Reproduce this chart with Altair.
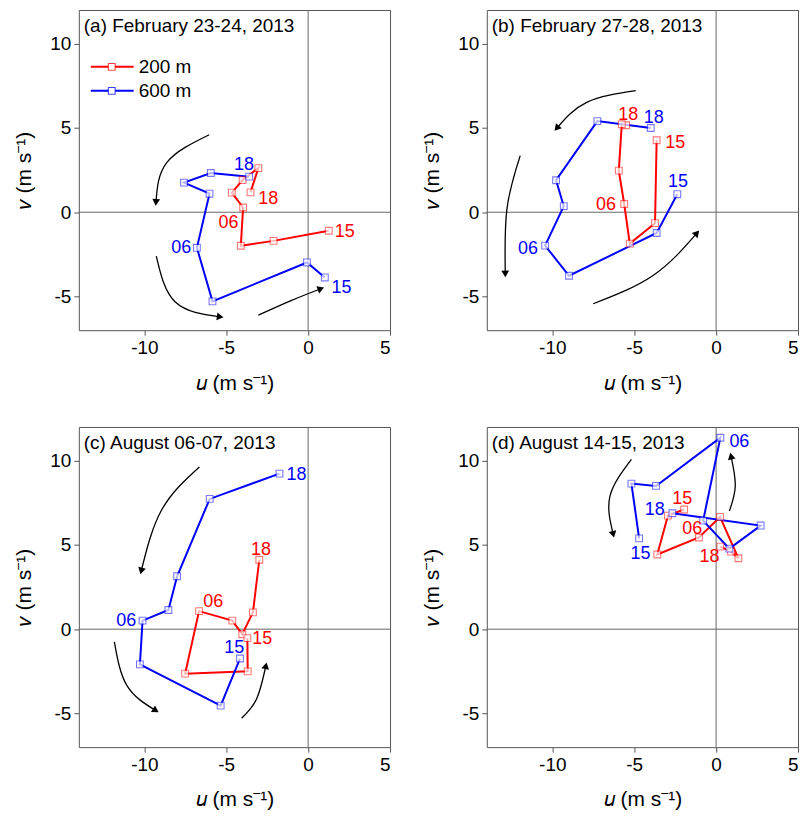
import math
import altair as alt
import pandas as pd

# ---------------- data (u, v in m/s), hourly order 18 -> 15 ----------------
a_u_200 = [-3.52, -3.04, -4.00, -4.66, -3.97, -4.11, -2.11, 1.26]
a_v_200 = [1.18, 2.62, 1.91, 1.16, 0.28, -1.99, -1.70, -1.10]
a_u_600 = [-3.60, -5.94, -7.58, -6.02, -6.79, -5.84, -0.07, 1.02]
a_v_600 = [2.11, 2.33, 1.76, 1.10, -2.11, -5.29, -2.98, -3.87]

b_u_200 = [-5.49, -5.76, -5.94, -5.61, -5.27, -3.73, -3.63]
b_v_200 = [5.16, 5.22, 2.47, 0.49, -1.86, -0.65, 4.27]
b_u_600 = [-3.99, -7.25, -9.77, -9.30, -10.44, -8.98, -3.63, -2.37]
b_v_600 = [5.00, 5.41, 1.90, 0.36, -1.98, -3.77, -1.23, 1.07]

c_u_200 = [-2.98, -3.37, -4.02, -4.63, -6.66, -7.51, -3.69, -3.71]
c_v_200 = [4.12, 1.00, -0.30, 0.51, 1.07, -2.64, -2.50, -0.53]
c_u_600 = [-1.75, -6.01, -8.00, -8.53, -10.11, -10.27, -5.34, -4.16]
c_v_600 = [9.23, 7.73, 3.14, 1.14, 0.51, -2.09, -4.54, -1.74]

d_u_200 = [0.26, 0.91, 1.36, 0.24, -1.05, -3.59, -2.94, -1.95]
d_v_200 = [4.90, 4.60, 4.21, 6.66, 5.44, 4.43, 6.74, 7.10]
d_u_600 = [-2.67, 2.72, 0.81, -0.79, 0.26, -3.67, -5.17, -4.70]
d_v_600 = [6.88, 6.15, 4.78, 6.44, 11.36, 8.50, 8.64, 5.39]

# hour labels: text, series, u, v
a_lab_text = ["18", "18", "06", "15", "06", "15"]
a_lab_ser = ["600 m", "200 m", "200 m", "200 m", "600 m", "600 m"]
a_lab_u = [-3.91, -2.43, -4.86, 2.24, -7.75, 2.04]
a_lab_v = [2.82, 0.79, -0.65, -1.18, -2.13, -4.50]

b_lab_text = ["18", "18", "15", "15", "06", "06"]
b_lab_ser = ["200 m", "600 m", "200 m", "600 m", "200 m", "600 m"]
b_lab_u = [-5.37, -3.81, -2.49, -2.33, -6.73, -11.49]
b_lab_v = [5.79, 5.59, 4.09, 1.78, 0.43, -2.17]

c_lab_text = ["18", "18", "06", "06", "15", "15"]
c_lab_ser = ["600 m", "200 m", "200 m", "600 m", "200 m", "600 m"]
c_lab_u = [-0.71, -2.88, -5.79, -11.10, -2.80, -4.51]
c_lab_v = [9.15, 4.69, 1.64, 0.51, -0.59, -1.14]

d_lab_text = ["06", "15", "18", "06", "15", "18"]
d_lab_ser = ["600 m", "200 m", "600 m", "200 m", "600 m", "200 m"]
d_lab_u = [1.42, -2.07, -3.75, -1.46, -4.62, -0.41]
d_lab_v = [11.12, 7.75, 7.05, 5.93, 4.45, 4.29]

# rotation arrows: (start, middle, end) points
a_arrows = [[(-6.04, 4.60), (-8.62, 2.96), (-9.29, 0.59)],
            [(-9.27, -2.60), (-8.11, -5.33), (-5.37, -6.21)],
            [(-3.04, -6.11), (-1.01, -5.23), (0.78, -4.54)]]
b_arrows = [[(-4.91, 7.21), (-7.90, 6.52), (-9.73, 4.98)],
            [(-11.96, 3.36), (-12.77, 0.20), (-12.87, -3.66)],
            [(-7.50, -5.43), (-3.85, -3.75), (-1.17, -1.24)]]
c_arrows = [[(-6.64, 9.63), (-8.93, 7.10), (-10.19, 3.45)],
            [(-11.83, -0.75), (-11.06, -3.35), (-9.30, -4.83)],
            [(-4.06, -5.28), (-3.15, -4.14), (-2.58, -2.17)]]
d_arrows = [[(-5.17, 10.08), (-6.48, 7.90), (-6.28, 5.63)],
            [(0.81, 7.01), (1.17, 8.50), (0.91, 10.27)]]

titles = ["(a) February 23-24, 2013", "(b) February 27-28, 2013",
          "(c) August 06-07, 2013", "(d) August 14-15, 2013"]

series_names = ["200 m", "600 m"]
series_colors = ["#ff0000", "#0000ff"]

# ---------------- layout ----------------
W, H = 312, 321
XDOM = [-14, 5]
YDOM = [-7, 12]
FONT = "Liberation Sans"

color_scale = alt.Scale(domain=series_names, range=series_colors)
xs = alt.Scale(domain=XDOM, nice=False, zero=False)
ys = alt.Scale(domain=YDOM, nice=False, zero=False)
LBL = "replace(datum.label, '\u2212', '-')"


def panel(title, u200, v200, u600, v600, lt, ls, lu, lv, arrows, legend=False):
    rows = []
    for ser, us, vs in (("200 m", u200, v200), ("600 m", u600, v600)):
        for i, (u, v) in enumerate(zip(us, vs)):
            rows.append({"series": ser, "idx": i, "u": u, "v": v})
    df = pd.DataFrame(rows)

    X = alt.X("u:Q", scale=xs, axis=alt.Axis(values=[-10, -5, 0, 5], title="𝑢 (m s⁻¹)", labelExpr=LBL))
    Y = alt.Y("v:Q", scale=ys, axis=alt.Axis(values=[-5, 0, 5, 10], title="𝑣 (m s⁻¹)", labelExpr=LBL))

    zx = alt.Chart(pd.DataFrame({"u": [0]})).mark_rule(color="#666", strokeWidth=1).encode(x=alt.X("u:Q", scale=xs))
    zy = alt.Chart(pd.DataFrame({"v": [0]})).mark_rule(color="#666", strokeWidth=1).encode(y=alt.Y("v:Q", scale=ys))

    lines = alt.Chart(df).mark_line(strokeWidth=2).encode(
        x=X, y=Y, order="idx:Q",
        color=alt.Color("series:N", scale=color_scale, legend=None))
    pts = alt.Chart(df).mark_point(shape="square", size=46, strokeWidth=1.1, strokeOpacity=0.75).encode(
        x=X, y=Y,
        stroke=alt.Stroke("series:N", scale=color_scale, legend=None),
        fill=alt.value("white"), fillOpacity=alt.value(1))

    ldf = pd.DataFrame({"t": lt, "series": ls, "u": lu, "v": lv})
    labels = alt.Chart(ldf).mark_text(fontSize=18, font=FONT).encode(
        x=alt.X("u:Q", scale=xs), y=alt.Y("v:Q", scale=ys), text="t:N",
        color=alt.Color("series:N", scale=color_scale, legend=None))

    sx = W / (XDOM[1] - XDOM[0])
    sy = H / (YDOM[1] - YDOM[0])
    arows, heads = [], []
    for k, pts3 in enumerate(arrows):
        for i, (u, v) in enumerate(pts3):
            arows.append({"a": k, "i": i, "u": u, "v": v})
        (u0, v0), (u1, v1), (u2, v2) = pts3
        tu = (u2 - u1) + 0.25 * (u0 - 2 * u1 + u2)
        tv = (v2 - v1) + 0.25 * (v0 - 2 * v1 + v2)
        ang = math.degrees(math.atan2(tu * sx, tv * sy)) % 360
        heads.append({"u": u2, "v": v2, "ang": ang})
    arr = alt.Chart(pd.DataFrame(arows)).mark_line(interpolate="natural", color="black", strokeWidth=1.3).encode(
        x=alt.X("u:Q", scale=xs), y=alt.Y("v:Q", scale=ys), detail="a:N", order="i:Q")
    hd = alt.Chart(pd.DataFrame(heads)).mark_point(shape="triangle-up", filled=True, color="black", size=60, opacity=1).encode(
        x=alt.X("u:Q", scale=xs), y=alt.Y("v:Q", scale=ys), angle=alt.Angle("ang:Q", scale=None))

    ttl = alt.Chart(pd.DataFrame({"t": [title]})).mark_text(
        align="left", baseline="middle", fontSize=19, font=FONT, color="black").encode(
        x=alt.value(5), y=alt.value(16), text="t:N")

    layers = [zx, zy, arr, hd, lines, pts, labels, ttl]
    if legend:
        for name, col, py in (("200 m", series_colors[0], 57), ("600 m", series_colors[1], 81)):
            one = pd.DataFrame({"t": [name]})
            layers.append(alt.Chart(one).mark_rule(color=col, strokeWidth=2).encode(
                x=alt.value(12), x2=alt.value(55), y=alt.value(py)))
            layers.append(alt.Chart(one).mark_point(shape="square", size=46, stroke=col, strokeWidth=1.1,
                                                     strokeOpacity=0.75, fill="white", fillOpacity=1).encode(
                x=alt.value(33), y=alt.value(py)))
            layers.append(alt.Chart(one).mark_text(align="left", baseline="middle", fontSize=19, font=FONT,
                                                    color="black").encode(
                x=alt.value(60), y=alt.value(py), text="t:N"))
    return alt.layer(*layers).properties(width=W, height=H)


pa = panel(titles[0], a_u_200, a_v_200, a_u_600, a_v_600, a_lab_text, a_lab_ser, a_lab_u, a_lab_v, a_arrows, legend=True)
pb = panel(titles[1], b_u_200, b_v_200, b_u_600, b_v_600, b_lab_text, b_lab_ser, b_lab_u, b_lab_v, b_arrows)
pc = panel(titles[2], c_u_200, c_v_200, c_u_600, c_v_600, c_lab_text, c_lab_ser, c_lab_u, c_lab_v, c_arrows)
pd_ = panel(titles[3], d_u_200, d_v_200, d_u_600, d_v_600, d_lab_text, d_lab_ser, d_lab_u, d_lab_v, d_arrows)

chart = alt.vconcat(
    alt.hconcat(pa, pb, spacing=30),
    alt.hconcat(pc, pd_, spacing=30),
    spacing=32,
).properties(
    padding={"left": 5, "top": 0, "right": 0, "bottom": 0}
).configure_view(
    stroke="#555", strokeWidth=1
).configure_axis(
    grid=False, domain=False, ticks=True, tickSize=5, tickColor="#555",
    labelFont=FONT, labelFontSize=19, labelColor="black", labelPadding=3,
    titleFont=FONT, titleFontSize=21, titleFontWeight="normal", titleColor="black", titlePadding=15,
)

chart.save("out.html", embed_options={"renderer": "svg", "actions": False})
